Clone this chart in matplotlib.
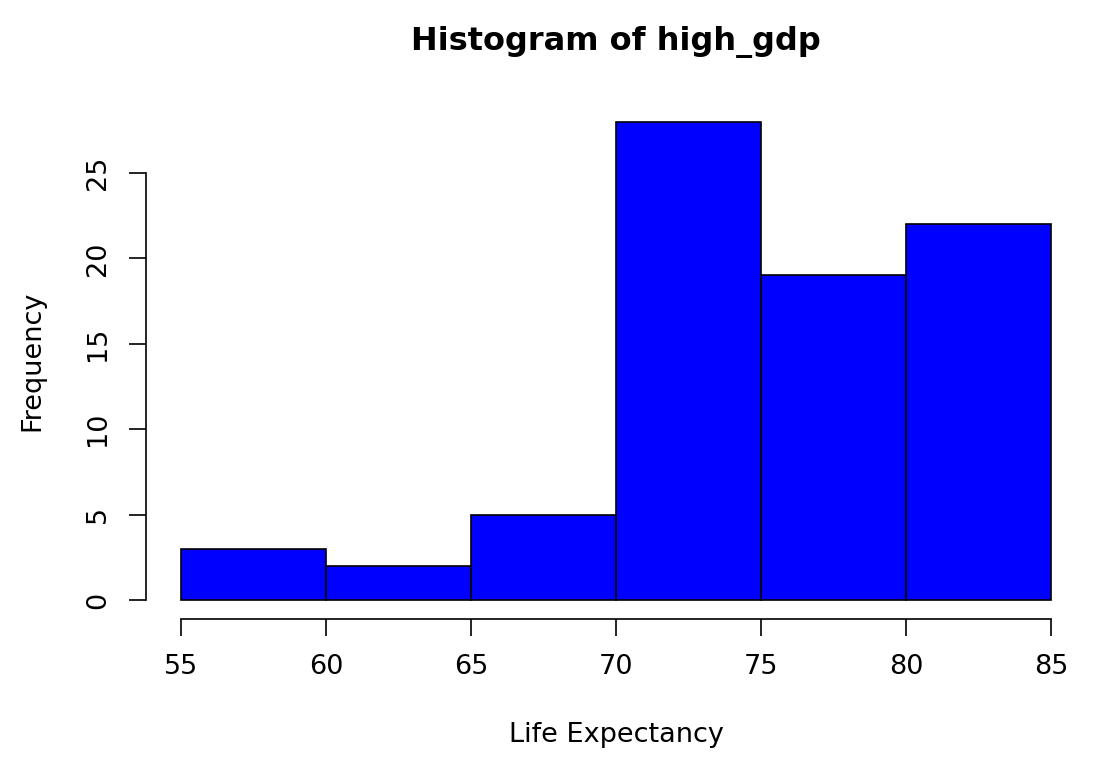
import matplotlib
matplotlib.use('Agg')
import matplotlib.pyplot as plt
import numpy as np

# histogram of high_gdp life expectancy
bin_edges = [55, 60, 65, 70, 75, 80, 85]
counts    = [3, 2, 5, 28, 19, 22]
x_ticks   = [55, 60, 65, 70, 75, 80, 85]
y_ticks   = [0, 5, 10, 15, 20, 25]

plt.rcParams['font.family'] = 'DejaVu Sans'

fig = plt.figure(figsize=(10.94, 7.78), dpi=100)
ax = fig.add_axes([0.1336, 0.2042, 0.8589, 0.6639])

left = np.array(bin_edges[:-1])
width = np.diff(bin_edges)
ax.bar(left, counts, width=width, align='edge', color='#0000ff',
       edgecolor='black', linewidth=1.2)

# R-style extended limits (4%)
xr = bin_edges[-1] - bin_edges[0]
ax.set_xlim(bin_edges[0] - 0.04 * xr, bin_edges[-1] + 0.04 * xr)
ax.set_ylim(-0.04 * max(counts), max(counts) * 1.04)

for s in ['top', 'right']:
    ax.spines[s].set_visible(False)
ax.spines['bottom'].set_bounds(x_ticks[0], x_ticks[-1])
ax.spines['left'].set_bounds(y_ticks[0], y_ticks[-1])
ax.spines['bottom'].set_linewidth(1.2)
ax.spines['left'].set_linewidth(1.2)

ax.set_xticks(x_ticks)
ax.set_yticks(y_ticks)
ax.set_yticklabels([str(v) for v in y_ticks], rotation=90, va='center')
ax.tick_params(axis='both', length=12, width=1.2, labelsize=19.5, pad=13)

ax.set_xlabel('Life Expectancy', fontsize=19.5, labelpad=30)
ax.set_ylabel('Frequency', fontsize=19.5, labelpad=29)
ax.set_title('Histogram of high_gdp', fontsize=23, fontweight='bold', pad=38)

fig.savefig('out.png', dpi=100)
